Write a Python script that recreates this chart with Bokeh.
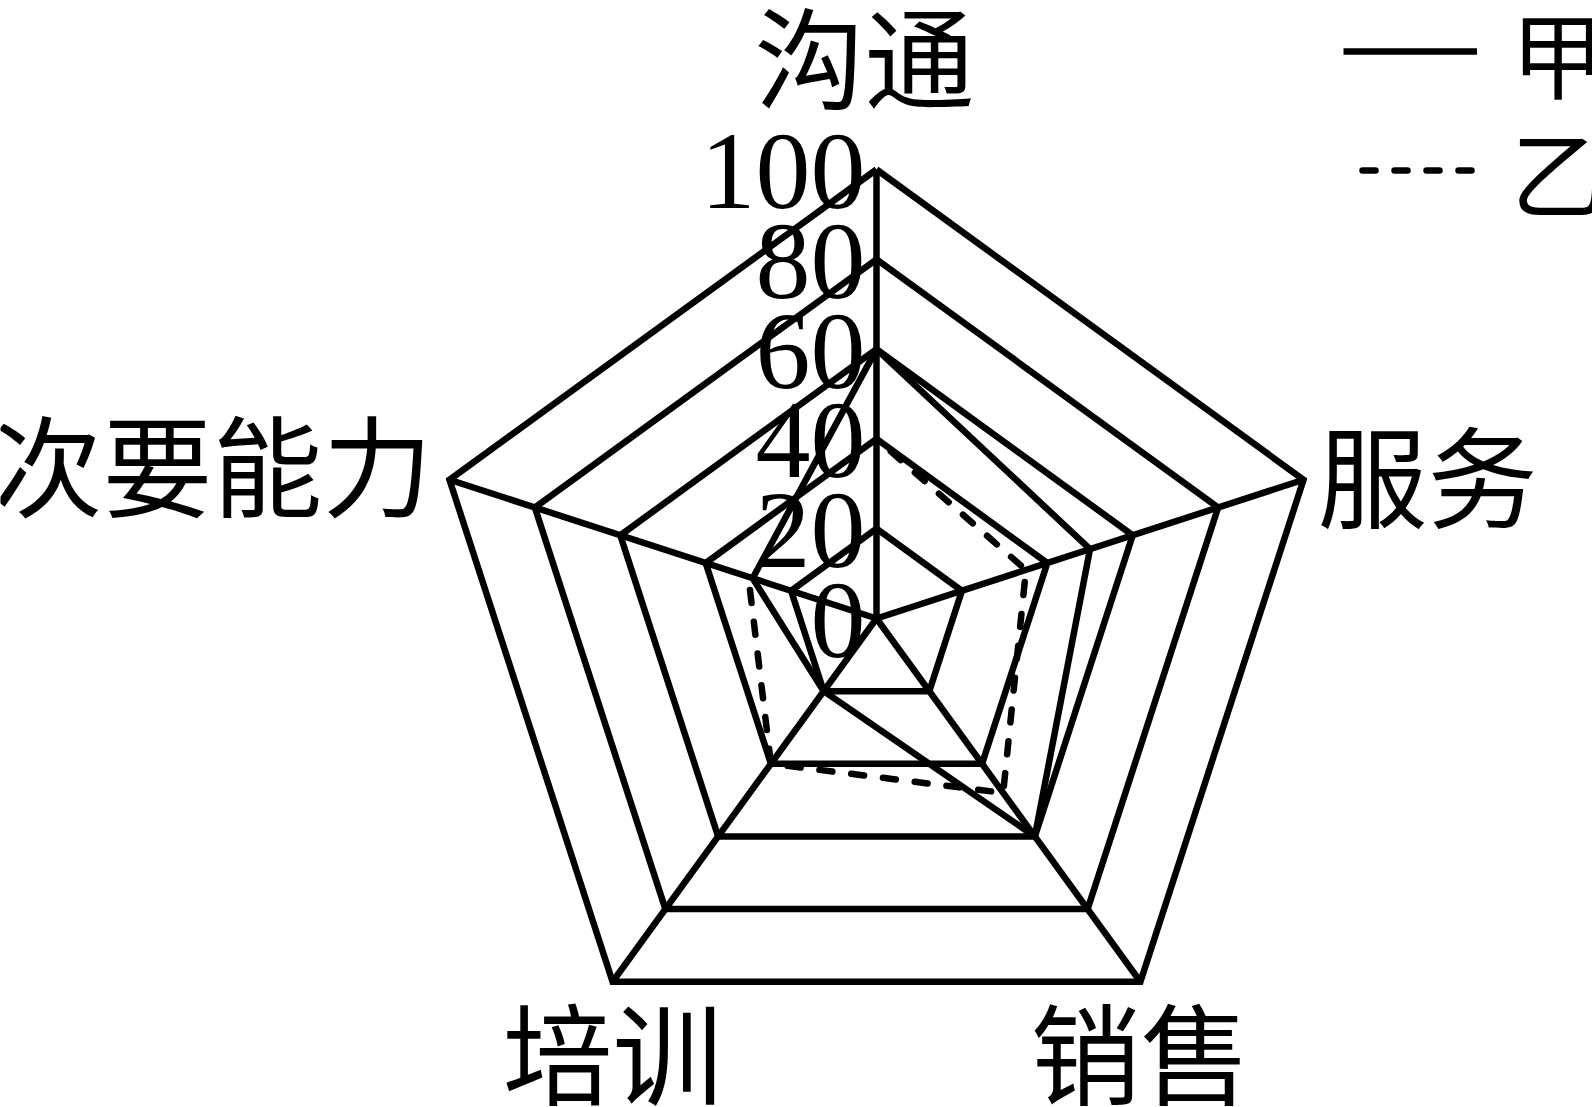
import numpy as np
from bokeh.plotting import figure
from bokeh.models import Range1d, ColumnDataSource, Legend, LegendItem
from bokeh.core.properties import value
from bokeh.embed import file_html
from bokeh.resources import INLINE

# ---- data ----
categories = ["沟通", "服务", "销售", "培训", "次要能力"]
series_jia = [60, 50, 60, 20, 29]
series_yi = [40, 35, 48, 40, 30]
ring_values = [20, 40, 60, 80, 100]
tick_labels = ["0", "20", "40", "60", "80", "100"]
tick_values = [0, 20, 40, 60, 80, 100]
legend_labels = ["甲", "乙"]

# ---- geometry / style ----
W, H = 1592, 1106
S = 4.49            # px per unit
CX, CY = 876, 618   # centre in canvas px
RMAX = 100
angles = np.deg2rad(90 - 72 * np.arange(len(categories)))

def polar(vals, close=False):
    v = np.asarray(vals, dtype=float)
    xs = v * np.cos(angles)
    ys = v * np.sin(angles)
    if close:
        xs = np.append(xs, xs[0]); ys = np.append(ys, ys[0])
    return list(xs), list(ys)

x0 = -CX / S
y1 = CY / S
p = figure(width=W, height=H, output_backend="svg", toolbar_location=None,
           x_range=Range1d(x0, x0 + W / S), y_range=Range1d(y1 - H / S, y1),
           min_border=0)
p.axis.visible = False
p.grid.visible = False
p.outline_line_color = None
p.background_fill_color = "white"

LW = 6.5
# grid rings
rx, ry = [], []
for rv in ring_values:
    xs, ys = polar([rv] * len(categories), close=True)
    rx.append(xs); ry.append(ys)
p.multi_line(rx, ry, line_color="black", line_width=LW, line_join="miter")
# spokes
sx, sy = [], []
for a in angles:
    sx.append([0, RMAX * np.cos(a)]); sy.append([0, RMAX * np.sin(a)])
p.multi_line(sx, sy, line_color="black", line_width=LW)

# series
jx, jy = polar(series_jia, close=True)
r_jia = p.line(jx, jy, line_color="black", line_width=LW, line_join="round")
yx, yy = polar(series_yi, close=False)
r_yi = p.line(yx, yy, line_color="black", line_width=LW, line_dash="13 19",
              line_dash_offset=13, line_cap="round", line_join="round")

# radial tick labels
p.text(x=[0] * len(tick_values), y=tick_values, text=tick_labels,
       text_font=value("Liberation Serif"), text_font_size="110px",
       text_align="right", text_baseline="middle", x_offset=-11, y_offset=2,
       text_color="black")

# category labels
cx_, cy_ = polar([RMAX] * len(categories))
aligns = ["center", "left", "center", "center", "right"]
xoffs = [-12, 14, 0, 0, -17]
yoffs = [-117, -8, 67, 67, -19]
src = ColumnDataSource(dict(x=cx_, y=cy_, t=categories, a=aligns, xo=xoffs, yo=yoffs))
p.text(x="x", y="y", text="t", source=src, text_align="a", x_offset="xo", y_offset="yo",
       text_baseline="middle", text_font=value("Noto Sans CJK SC"),
       text_font_size="110px", text_color="black")

# legend: one box per entry so the rows can sit as close as in the reference
common = dict(margin=0, padding=0, spacing=0,
              glyph_width=134, glyph_height=96, label_height=96, label_standoff=34,
              label_text_font="Noto Sans CJK SC", label_text_font_size="94px",
              label_text_color="black", border_line_alpha=0, background_fill_alpha=0)
leg1 = Legend(items=[LegendItem(label=legend_labels[0], renderers=[r_jia])],
              location=(1343, 987), **common)
leg2 = Legend(items=[LegendItem(label=legend_labels[1], renderers=[r_yi])],
              location=(1343, 868), **common)
p.add_layout(leg1)
p.add_layout(leg2)

open("out.html", "w").write(file_html(p, INLINE))
